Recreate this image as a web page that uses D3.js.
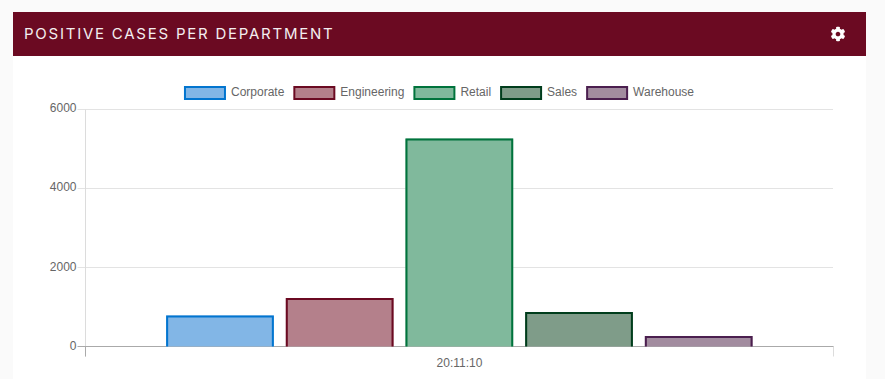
<!DOCTYPE html>
<html><head><meta charset="utf-8">
<script src="https://cdn.jsdelivr.net/npm/d3@7/dist/d3.min.js"></script>
<style>html,body{margin:0;padding:0;background:#fff;overflow:hidden}svg{display:block}</style>
</head><body><svg id="c" width="885" height="379"></svg>
<script>
const title = "POSITIVE CASES PER DEPARTMENT";
const groups = ["20:11:10"];
const departments = ["Corporate","Engineering","Retail","Sales","Warehouse"];
const cases = [785,1228,5265,873,266];
const strokeColors = ["#0275cf","#6b0a22","#00733c","#003d1c","#4b1f4f"];
const fillColors = ["#82b6e6","#b4808b","#80b99c","#7f9c89","#a28c9f"];
const yTicks = [0,2000,4000,6000];

const svg = d3.select("#c");
const fontChart = "'Liberation Sans',Arial,sans-serif";
const textCol = "#666";
const L=85.5,R=833.5,T=109.5,B=346.5;
const y = d3.scaleLinear().domain([0,6000]).range([B,T]);
const yLabel = d3.scaleLinear().domain([0,6000]).range([350,112]);
const x0 = d3.scaleBand().domain(groups).range([L,R]).paddingInner(0).paddingOuter(0);
const xGroup = d3.scaleBand().domain(departments).range([L-0.15+x0.bandwidth()*0.1,R-0.15-x0.bandwidth()*0.1]).paddingInner(0.1).paddingOuter(0.05);

// page + card
svg.append("rect").attr("width",885).attr("height",379).attr("fill","#fafafa");
svg.append("rect").attr("x",13).attr("y",12).attr("width",853).attr("height",367).attr("fill","#fff");
svg.append("rect").attr("x",13).attr("y",12).attr("width",853).attr("height",44).attr("fill","#6b0a22");
svg.append("text").text(title).attr("x",24).attr("y",39).attr("fill","#f4eef0")
  .style("font-family","'Inter','Noto Sans',sans-serif").style("font-size","15px").style("letter-spacing","1.76px");
svg.append("path").attr("transform","translate(830.5,26.5) scale(0.0293)").attr("fill","#fff")
  .attr("d","M487.4 315.7l-42.6-24.6c4.3-23.2 4.3-47 0-70.2l42.6-24.6c4.9-2.8 7.1-8.6 5.5-14-11.1-35.6-30-67.8-54.7-94.6-3.8-4.1-10-5.1-14.8-2.3L380.8 110c-17.9-15.4-38.5-27.3-60.8-35.1V25.8c0-5.6-3.9-10.5-9.4-11.7-36.7-8.2-74.3-7.8-109.2 0-5.5 1.2-9.4 6.1-9.4 11.7V75c-22.2 7.9-42.8 19.8-60.8 35.1L88.7 85.5c-4.9-2.8-11-1.9-14.8 2.3-24.7 26.7-43.6 58.9-54.7 94.6-1.7 5.4.6 11.2 5.5 14L67.3 221c-4.3 23.2-4.3 47 0 70.2l-42.6 24.6c-4.9 2.8-7.1 8.6-5.5 14 11.1 35.6 30 67.8 54.7 94.6 3.8 4.1 10 5.1 14.8 2.3l42.6-24.6c17.9 15.4 38.5 27.3 60.8 35.1v49.2c0 5.6 3.9 10.5 9.4 11.7 36.7 8.2 74.3 7.8 109.2 0 5.5-1.2 9.4-6.1 9.4-11.7v-49.2c22.2-7.9 42.8-19.8 60.8-35.1l42.6 24.6c4.9 2.8 11 1.9 14.8-2.3 24.7-26.7 43.6-58.9 54.7-94.6 1.5-5.5-.7-11.3-5.6-14.1zM256 336c-44.1 0-80-35.9-80-80s35.9-80 80-80 80 35.9 80 80-35.9 80-80 80z");

// grid
const grid = svg.append("g");
grid.selectAll("line.h").data(yTicks.filter(d=>d>0)).join("line").attr("class","h")
  .attr("x1",L-8).attr("x2",R-0.5).attr("y1",d=>y(d)).attr("y2",d=>y(d)).attr("stroke","#e3e3e3");
grid.append("line").attr("x1",L).attr("x2",L).attr("y1",T).attr("y2",B+10).attr("stroke","#dcdcdc");
grid.append("line").attr("x1",R).attr("x2",R).attr("y1",B).attr("y2",B+10).attr("stroke","#dcdcdc");
grid.append("line").attr("x1",L-8).attr("x2",R).attr("y1",B).attr("y2",B).attr("stroke","#aaa");
grid.append("line").attr("x1",L).attr("x2",L).attr("y1",B).attr("y2",B+10).attr("stroke","#aaa");

// y labels
svg.append("g").selectAll("text").data(yTicks).join("text").text(d=>d)
  .attr("x",L-9).attr("y",d=>yLabel(d)).attr("text-anchor","end").attr("fill",textCol)
  .style("font-family",fontChart).style("font-size","12px");
// x label
svg.append("g").selectAll("text").data(groups).join("text").text(d=>d)
  .attr("x",d=>x0(d)+x0.bandwidth()/2).attr("y",367).attr("text-anchor","middle").attr("fill",textCol)
  .style("font-family",fontChart).style("font-size","12px");

// bars
const bars = svg.append("g").selectAll("g").data(departments).join("g");
bars.append("rect").attr("x",d=>xGroup(d)).attr("width",xGroup.bandwidth())
  .attr("y",(d,i)=>y(cases[i])).attr("height",(d,i)=>B-y(cases[i])).attr("fill",(d,i)=>fillColors[i]);
bars.append("path").attr("fill","none").attr("stroke-width",2).attr("stroke",(d,i)=>strokeColors[i])
  .attr("d",(d,i)=>{const a=xGroup(d)+1,b=xGroup(d)+xGroup.bandwidth()-1,t=y(cases[i])+1;return `M${a},${B}V${t}H${b}V${B}`;});

// legend
const legend = svg.append("g");
const items = legend.selectAll("g").data(departments).join("g");
items.append("text").text(d=>d).attr("y",96).attr("fill",textCol)
  .style("font-family",fontChart).style("font-size","12px");
let widths=[]; items.select("text").each(function(){widths.push(this.getComputedTextLength());});
const gap=9;
const total=d3.sum(widths)+departments.length*47+(departments.length-1)*gap;
let cx=439-total/2;
items.each(function(d,i){
  const g=d3.select(this);
  g.attr("transform",`translate(${cx},0)`);
  g.append("rect").attr("x",1).attr("y",87).attr("width",40).attr("height",12).attr("fill",fillColors[i]).attr("stroke",strokeColors[i]).attr("stroke-width",2);
  g.select("text").attr("x",47);
  cx+=47+widths[i]+gap;
});
</script></body></html>
